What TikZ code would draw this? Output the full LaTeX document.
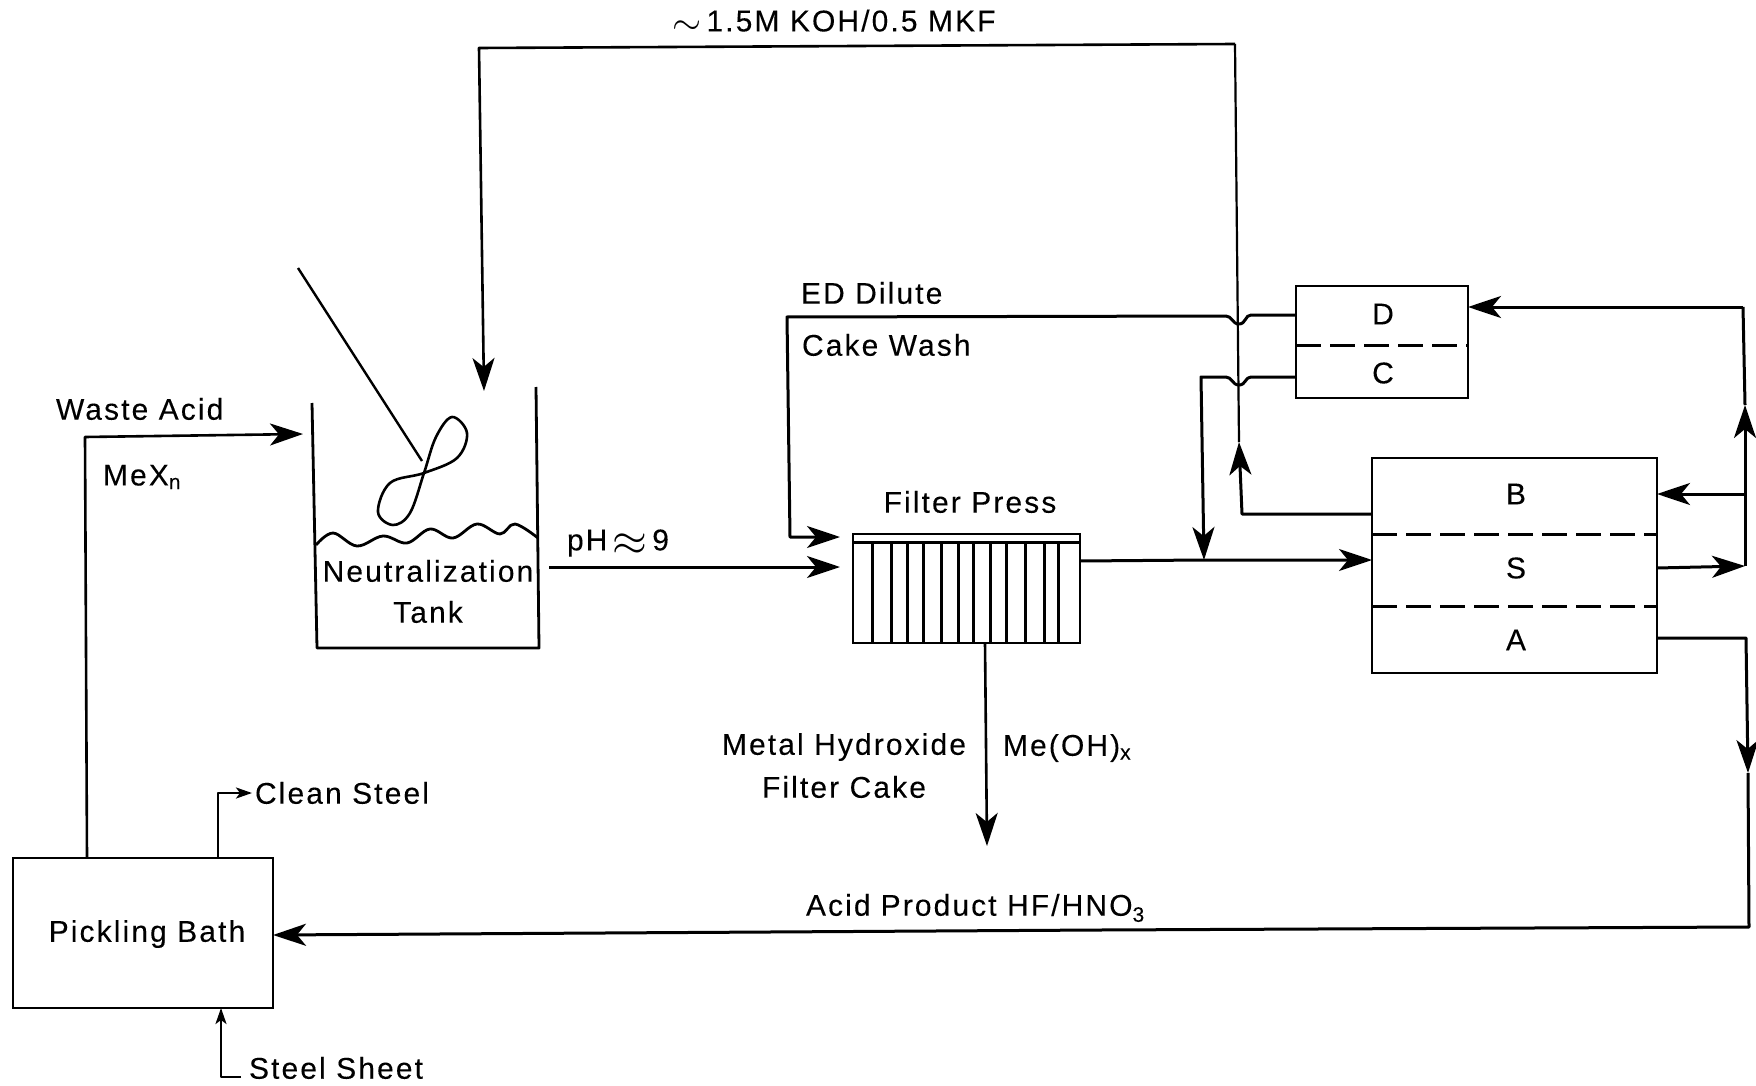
\documentclass[tikz,border=0pt]{standalone}
\usepackage{fontspec}
\setmainfont{Liberation Sans}[LetterSpace=7,FakeBold=0.12]
\usetikzlibrary{arrows.meta}
\tikzset{
  flow/.style={line width=3pt,line join=round,-{Stealth[length=33pt,width=22pt,inset=9pt]}},
  smallflow/.style={line width=2.4pt,line join=round,-{Stealth[length=16pt,width=11pt,inset=4pt]}},
  pipe/.style={line width=3pt,line join=round},
  thinpipe/.style={line width=2.2pt,line join=round},
  boxed/.style={draw,line width=2.9pt,inner sep=0pt,outer sep=0pt},
  divider/.style={line width=3pt,dash pattern=on 25pt off 9pt},
  txt/.style={inner sep=0pt,outer sep=0pt,font=\fontsize{30}{40}\selectfont},
  leftt/.style={txt,anchor=west},
}
\newcommand{\bigsym}[2]{\raisebox{#1}{\scalebox{#2}{$\approx$}}}
\newcommand{\bigtil}[2]{\raisebox{#1}{\scalebox{#2}{$\sim$}}}
\begin{document}
\begin{tikzpicture}[x=1pt,y=-1pt]
\useasboundingbox[fill=white] (0,0) rectangle (1756,1086);

% boxes
\node[boxed,minimum width=260pt,minimum height=150pt,anchor=north west] (pick) at (13,858) {};
\node[boxed,minimum width=172pt,minimum height=112pt,anchor=north west] (edbox) at (1296,286) {};
\node[boxed,minimum width=285pt,minimum height=215pt,anchor=north west] (bsa) at (1372,458) {};
\node[boxed,minimum width=227pt,minimum height=109pt,anchor=north west] (press) at (853,534) {};
\node[txt] (pickt) at (147,934) {Pickling Bath};

% divisions
\draw[divider] (edbox.west |- 0,345) -- (edbox.east |- 0,345);
\draw[divider] (bsa.west |- 0,534) -- (bsa.east |- 0,534);
\draw[divider] (bsa.west |- 0,606) -- (bsa.east |- 0,606);
\draw[line width=3pt] (press.west |- 0,542) -- (press.east |- 0,542);
\foreach \xx in {872,891,907,923,941,958,973,990,1006,1025,1044,1058}
  \draw[line width=3pt] (\xx,542) -- (\xx,643);

% compartment letters
\node[txt] (nd) at (1383,314) {D};
\node[txt] (nc) at (1383,373) {C};
\node[txt] (nb) at (1516,494) {B};
\node[txt] (ns) at (1516,568) {S};
\node[txt] (na) at (1516,640) {A};

% tank
\draw[line width=2.8pt,line join=round] (312,403) -- (317,648) -- (539,648) -- (536,387);
\draw[line width=2.8pt] plot[smooth,tension=.6] coordinates {(316,545) (333,533) (357,546) (383,536) (407,543) (430,529) (453,538) (477,524) (500,534) (515,524) (538,538)};
\draw[line width=2.4pt] (298,268) -- (422,461);
\draw[line width=2.6pt] plot[smooth cycle,tension=.6] coordinates {(424,473) (436,437) (452,417) (467,433) (457,458) (424,473) (390,483) (378,512) (393,525) (410,513)};
\node[txt] (tanka) at (428,571) {Neutralization};
\node[txt] (tankb) at (428,612) {Tank};
\coordinate (tankin) at (303,434);
\coordinate (tanktop) at (484,391);
\coordinate (tankout) at (549,567);

% labels
\node[txt] (lkoh) at (834,22) {\bigtil{-3pt}{1.5}\,1.5M KOH/0.5 MKF};
\node[leftt] (led) at (801,293) {ED Dilute};
\node[leftt] (lcw) at (802,345) {Cake Wash};
\node[leftt] (lwa) at (56,409) {Waste Acid};
\node[leftt] (lme) at (103,477) {MeX\textsubscript{n}};
\node[leftt] (lph) at (567,543) {pH\,\bigsym{-5pt}{1.8}\,9};
\node[txt] (lfp) at (970,502) {Filter Press};
\node[txt] (lmh) at (844,747) {Metal Hydroxide};
\node[txt] (lfc) at (844,787) {Filter Cake};
\node[leftt] (lox) at (1003,748) {Me(OH)\textsubscript{x}};
\node[leftt] (lap) at (806,908) {Acid\,\,Product HF/HNO\textsubscript{3}};
\node[leftt] (lcs) at (255,793) {Clean Steel};
\node[leftt] (lss) at (249,1068) {Steel Sheet};

% waste acid
\draw[flow,line width=2.6pt] ([xshift=74pt]pick.north west) -- (85,437) -- (tankin);
% clean steel
\coordinate (cs) at (252,793);
\draw[smallflow] ([xshift=205pt]pick.north west) -- (218,793) -- (cs);
% steel sheet
\coordinate (ss) at (241,1077);
\draw[smallflow] (ss) -- (221,1077) -- ([xshift=208pt]pick.south west);
% KOH recycle
\draw[thinpipe] (1239,442) -- (1235,44);
\draw[flow,line width=2.6pt] (1235,44) -- (479,48) -- (tanktop);
% pH
\coordinate (pressa) at (840,567);
\coordinate (pressb) at (840,537);
\draw[flow] (tankout) -- (pressa);
% ED dilute
\draw[flow] (edbox.west |- 0,315) -- (1251,315) .. controls (1245,315) and (1246,324) .. (1239,324) .. controls (1232,324) and (1232,316) .. (1226,316) -- (787,317) -- (790,537) -- (pressb);
% Cake wash / C out
\coordinate (mix) at (1204,560);
\draw[flow] (edbox.west |- 0,377) -- (1251,377) .. controls (1245,377) and (1246,385) .. (1239,385) .. controls (1232,385) and (1232,377) .. (1226,377) -- (1201,377) -- (mix);
% press to BSA
\draw[flow] (press.east |- 0,561) -- (mix) -- (bsa.west |- 0,560);
% B out
\draw[flow] (bsa.west |- 0,514) -- (1242,514) -- (1239,442);
% S out
\coordinate (sj) at (1745,566);
\draw[flow] (bsa.east |- 0,568) -- (sj);
\coordinate (up) at (1745,405);
\draw[flow] (sj) -- (up);
\draw[pipe] (up) -- (1743,307);
\draw[flow] (1743,307) -- (edbox.east |- 0,307);
\draw[flow] (1745,494) -- (bsa.east |- 0,494);
% A out
\coordinate (ad) at (1748,773);
\draw[flow] (bsa.east |- 0,638) -- (1746,638) -- (ad);
\draw[pipe] (ad) -- (1749,927) -- (1100,930);
\draw[flow] (1100,930) -- (pick.east |- 0,935);
% cake
\coordinate (ct) at (987,846);
\draw[flow,line width=2.6pt] ([xshift=132pt]press.south west) -- (ct);
\end{tikzpicture}
\end{document}
